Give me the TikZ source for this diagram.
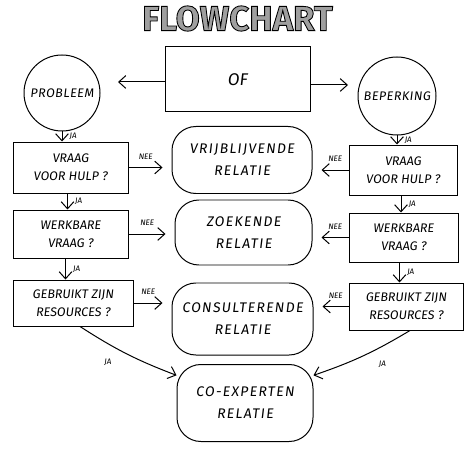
\documentclass[tikz,border=0pt]{standalone}
\usepackage{fontspec}
\usetikzlibrary{arrows.meta}
\newfontfamily\handfont[FakeSlant=0.12]{Fira Sans}
\newfontfamily\titlefont[FakeBold=2.5]{Fira Sans Bold}
\newcommand{\Px}{1bp}
% left and right question boxes: name/x/y/width/height/target/text
\def\LeftBoxes{1/70.5/167.5/115/51/vrij/{VRAAG\\VOOR HULP ?}, 2/70.5/234/115/48/zoek/{WERKBARE\\VRAAG ?}, 3/73/303/120/46/cons/{GEBRUIKT ZIJN\\RESOURCES ?}}
\def\RightBoxes{1/403/170/108/50/vrij/{VRAAG\\VOOR HULP ?}, 2/403.5/237.5/109/49/zoek/{WERKBARE\\VRAAG ?}, 3/406/306.5/114/47/cons/{GEBRUIKT ZIJN\\RESOURCES ?}}
% grey letters with a black outline
\newcommand{\Outlined}[1]{{\color{gray!75}\special{pdf:literal direct 0 G}#1}}
\tikzset{
	Question/.style={
		draw=black,
		line width=1pt,
		align=center,
		inner sep=0pt,
		font=\handfont\fontsize{12.5}{18}\selectfont,
	},
	Relation/.style={
		draw=black,
		line width=1pt,
		rounded corners=24pt,
		align=center,
		inner sep=0pt,
		font=\handfont\fontsize{14}{22}\selectfont\addfontfeature{LetterSpace=9},
	},
	Start/.style={
		draw=black,
		line width=1pt,
		circle,
		inner sep=0pt,
		font=\handfont\fontsize{12.5}{14}\selectfont\addfontfeature{LetterSpace=4},
	},
	Flow/.style={-{Straight Barb[length=2.5mm,width=4.5mm]}, line width=1pt},
	Answer/.style={font=\handfont\fontsize{8}{9}\selectfont, inner sep=1pt},
}

\begin{document}
\begin{tikzpicture}[x=\Px, y=-\Px]
	\useasboundingbox (0,0) rectangle (474,457);
	\node (title) at (237.5,18.5) {\titlefont\fontsize{35}{40}\selectfont\Outlined{FLOWCHART}};
	\node [Question, minimum width=145*\Px, minimum height=65*\Px, font=\handfont\fontsize{17}{18}\selectfont] (of) at (237.5,79.5) {OF};
	\node [Start, minimum size=76*\Px] (probleem) at (62,93) {PROBLEEM};
	\node [Start, minimum size=78*\Px] (beperking) at (397,96) {BEPERKING};
	\coordinate (ofleft) at (118,82);
	\coordinate (ofright) at (348,85);
	\draw [Flow] (of.west |- ofleft) -- (ofleft);
	\draw [Flow] (of.east |- ofright) -- (ofright);
	% relations in the middle
	\node [Relation, minimum width=140*\Px, minimum height=67*\Px] (vrij) at (242,160) {VRIJBLIJVENDE\\RELATIE};
	\node [Relation, minimum width=137*\Px, minimum height=65*\Px] (zoek) at (243.5,232.5) {ZOEKENDE\\RELATIE};
	\node [Relation, minimum width=141*\Px, minimum height=72*\Px] (cons) at (242.5,319) {CONSULTERENDE\\RELATIE};
	\node [Relation, minimum width=136*\Px, minimum height=77*\Px] (coexp) at (245,403) {CO-EXPERTEN\\RELATIE};
	% questions
	\foreach \i/\x/\y/\w/\h/\Target/\Text in \LeftBoxes {%
		\node [Question, minimum width=\w*\Px, minimum height=\h*\Px] (lbox\i) at (\x,\y) {\Text};
		\draw [Flow] (lbox\i.east) -- ([xshift=-9bp]lbox\i.east -| \Target.west) node [Answer, midway, above=7bp] {NEE};
	}
	\foreach \i/\x/\y/\w/\h/\Target/\Text in \RightBoxes {%
		\node [Question, minimum width=\w*\Px, minimum height=\h*\Px] (rbox\i) at (\x,\y) {\Text};
		\draw [Flow] (rbox\i.west) -- ([xshift=9bp]rbox\i.west -| \Target.east) node [Answer, midway, above=7bp] {NEE};
	}
	\draw [Flow] (probleem.south) -- (probleem.south |- lbox1.north) node [Answer, midway, right=6bp] {JA};
	\draw [Flow] ([xshift=-3bp]lbox1.south) -- ([xshift=-3bp]lbox1.south |- lbox2.north) node [Answer, midway, right=6bp] {JA};
	\draw [Flow] ([xshift=-5bp]lbox2.south) -- ([xshift=-5bp]lbox2.south |- lbox3.north) node [Answer, midway, right=6bp] {JA};
	\draw [Flow] (beperking.south) -- (beperking.south |- rbox1.north) node [Answer, midway, right=6bp] {JA};
	\draw [Flow] ([xshift=-2bp]rbox1.south) -- ([xshift=-2bp]rbox1.south |- rbox2.north) node [Answer, midway, right=6bp] {JA};
	\draw [Flow] ([xshift=-4bp]rbox2.south) -- ([xshift=-4bp]rbox2.south |- rbox3.north) node [Answer, midway, right=6bp] {JA};
	\draw [Flow] ([xshift=7bp]lbox3.south) to [bend right=6] node [Answer, pos=0.42, below left=7bp] {JA} (coexp.158);
	\draw [Flow] ([xshift=4bp]rbox3.south) to [bend left=6] node [Answer, pos=0.42, below right=7bp] {JA} (coexp.22);
\end{tikzpicture}
\end{document}
